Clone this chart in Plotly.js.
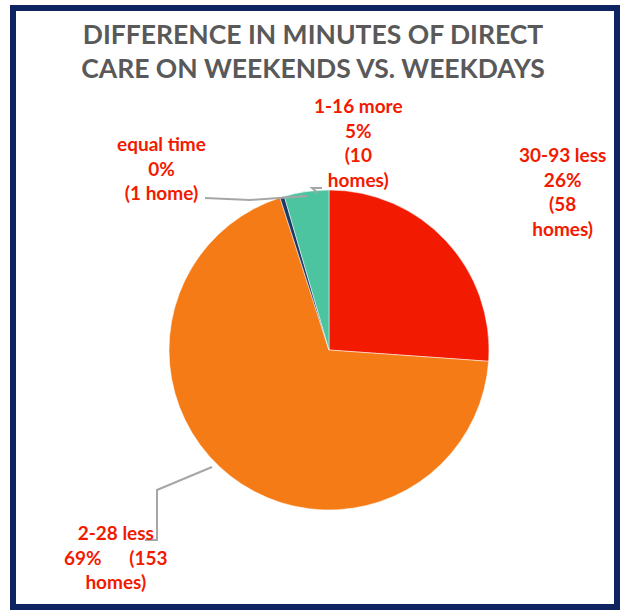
<!DOCTYPE html>
<html>
<head>
<meta charset="utf-8">
<script src="https://cdn.plot.ly/plotly-3.0.1.min.js"></script>
<style>
  html, body { margin: 0; padding: 0; background: #ffffff; }
  #chart { width: 626px; height: 610px; }
</style>
</head>
<body>
<div id="chart"></div>
<script>
// ---- data ----
const categories = ["30-93 less", "2-28 less", "equal time", "1-16 more"];
const homes = [58, 153, 1, 10];
const sliceColors = ["#F21A00", "#F57B17", "#1F3864", "#4DC4A0"];
const titleLines = ["DIFFERENCE IN MINUTES OF DIRECT", "CARE ON WEEKENDS VS. WEEKDAYS"];

const W = 626, H = 610;
const X = px => px / W;
const Y = py => 1 - py / H;

const total = homes.reduce((a, b) => a + b, 0);
const pct = homes.map(v => Math.round(v / total * 100) + "%");
const labelText = [
  categories[0] + "<br>" + pct[0] + "<br>(" + homes[0] + "<br>homes)",
  categories[1] + "<br>" + pct[1] + "      (" + homes[1] + "<br>homes)",
  categories[2] + "<br>" + pct[2] + "<br>(" + homes[2] + " home)",
  categories[3] + "<br>" + pct[3] + "<br>(" + homes[3] + "<br>homes)"
];
// label block centres in pixels
const labelPos = [[562, 191], [116, 557], [162, 168], [358, 143]];

const labelFont = { family: "Lato, 'Open Sans', sans-serif", size: 19, color: "#F21A00", weight: 700 };

const cx = 329, cy = 350, r = 160;

const trace = {
  type: "pie",
  labels: categories,
  values: homes,
  sort: false,
  direction: "clockwise",
  rotation: 0,
  textinfo: "none",
  hoverinfo: "label+value+percent",
  marker: { colors: sliceColors, line: { color: "#ffffff", width: 0.5 } },
  domain: { x: [X(cx - r), X(cx + r)], y: [Y(cy + r), Y(cy - r)] },
  showlegend: false
};

const annotations = labelText.map((t, i) => ({
  text: "<b>" + t + "</b>",
  x: X(labelPos[i][0]), y: Y(labelPos[i][1]),
  xref: "paper", yref: "paper",
  xanchor: "center", yanchor: "middle",
  showarrow: false, align: "center",
  font: labelFont
}));

const gray = { color: "#A6A6A6", width: 2 };
const shapes = [
  // chart frame
  { type: "rect", xref: "paper", yref: "paper", x0: X(13), x1: X(617), y0: Y(607), y1: Y(8),
    line: { color: "#0D2460", width: 6 }, fillcolor: "rgba(0,0,0,0)" },
  // leader lines
  { type: "path", xref: "paper", yref: "paper",
    path: `M ${X(205)} ${Y(198)} L ${X(250)} ${Y(200)} L ${X(307)} ${Y(196)}`, line: gray },
  { type: "path", xref: "paper", yref: "paper",
    path: `M ${X(322)} ${Y(188)} L ${X(312)} ${Y(188)} L ${X(318)} ${Y(193)}`, line: gray },
  { type: "path", xref: "paper", yref: "paper",
    path: `M ${X(145)} ${Y(540)} L ${X(157)} ${Y(540)} L ${X(157)} ${Y(490)} L ${X(212)} ${Y(467)}`, line: gray }
];

const layout = {
  width: W, height: H,
  margin: { l: 0, r: 0, t: 0, b: 0 },
  paper_bgcolor: "#ffffff",
  title: {
    text: "<b>" + titleLines.join("<br>") + "</b>",
    x: 0.5, xanchor: "center",
    y: 1 - 44 / H, yanchor: "top", yref: "container",
    font: { family: "Lato, 'Open Sans', sans-serif", size: 26.5, color: "#595959" }
  },
  annotations: annotations,
  shapes: shapes
};

Plotly.newPlot("chart", [trace], layout, { displayModeBar: false, staticPlot: true });
</script>
</body>
</html>
